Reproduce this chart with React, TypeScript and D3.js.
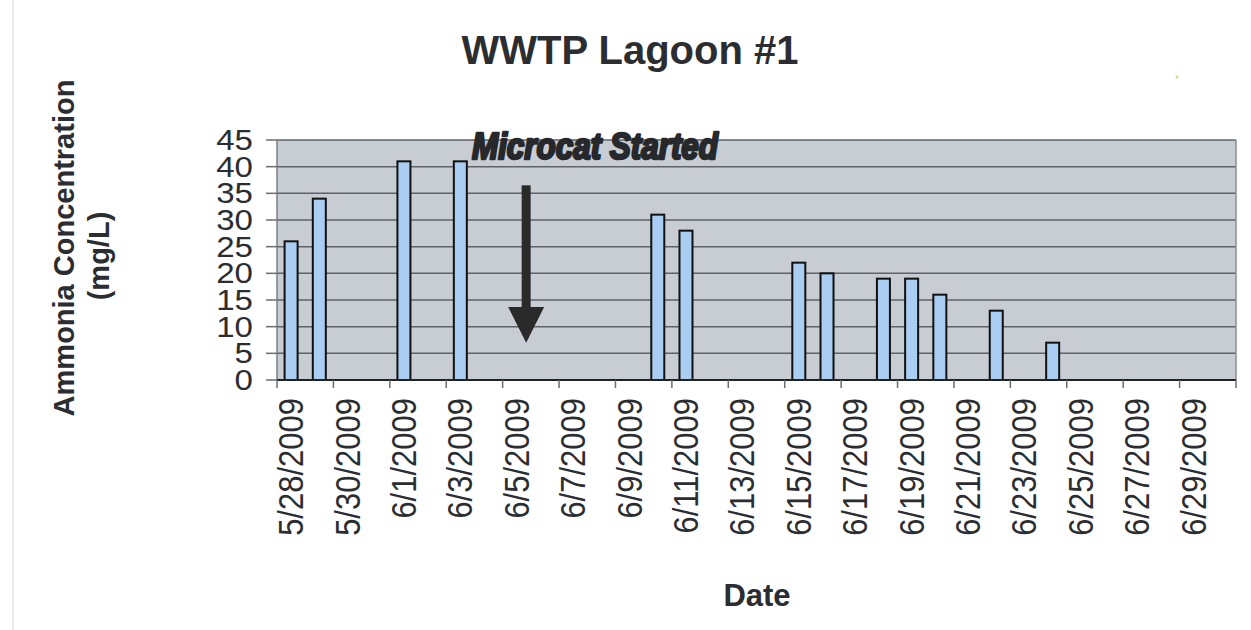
import React from "react";
import * as d3 from "d3";

// ---- data ----
const sampleDates = [
  "2009-05-28", "2009-05-29", "2009-06-01", "2009-06-03", "2009-06-10",
  "2009-06-11", "2009-06-15", "2009-06-16", "2009-06-18", "2009-06-19",
  "2009-06-20", "2009-06-22", "2009-06-24",
];
const ammonia = [26, 34, 41, 41, 31, 28, 22, 20, 19, 19, 16, 13, 7];
const yTicks = [0, 5, 10, 15, 20, 25, 30, 35, 40, 45];
const axisStart = "2009-05-28";
const axisEnd = "2009-07-01";
const title = "WWTP Lagoon #1";
const yTitle1 = "Ammonia Concentration";
const yTitle2 = "(mg/L)";
const xTitle = "Date";
const annotation = "Microcat Started";
const annotationDate = "2009-06-05T20:00:00Z";

const W = 1251;
const H = 630;
const M = { left: 277, right: 1236, top: 140, bottom: 380 };

const parse = (s: string) => new Date(s.length > 10 ? s : s + "T00:00:00Z");

export default function App() {
  const x = d3.scaleUtc().domain([parse(axisStart), parse(axisEnd)]).range([M.left, M.right]);
  const y = d3.scaleLinear().domain([0, 45]).range([M.bottom, M.top]);
  const dayW = x(parse("2009-05-29")) - x(parse("2009-05-28"));
  const tickDates = d3.utcDay.range(parse(axisStart), d3.utcDay.offset(parse(axisEnd), 1), 2);
  const labelDates = tickDates.filter((d) => d < parse(axisEnd));
  const fmt = d3.utcFormat("%-m/%-d/%Y");
  const barW = 13;
  const ax = x(parse(annotationDate));
  const font = "'Liberation Sans', Arial, Helvetica, sans-serif";
  const ink = "#2b2d31";

  return (
    <svg width={W} height={H} style={{ position: "absolute", left: 0, top: 0, background: "#fff" }} fontFamily={font}>
      <rect x={0} y={0} width={W} height={H} fill="#fff" />
      <line x1={13} x2={13} y1={0} y2={H} stroke="#d6d6d6" strokeWidth={1} />
      <circle cx={1177} cy={77} r={1.5} fill="#e6d27a" />

      {/* title */}
      <text x={630} y={64} textAnchor="middle" fontSize={40} fontWeight="bold" fill={ink}>{title}</text>

      {/* plot background */}
      <rect x={M.left} y={M.top} width={M.right - M.left} height={M.bottom - M.top} fill="#c8ccd3" />

      {/* gridlines */}
      {yTicks.filter((t) => t > 0).map((t) => (
        <line key={"g" + t} x1={M.left} x2={M.right} y1={y(t)} y2={y(t)} stroke="#5f6368" strokeWidth={1.5} />
      ))}
      <line x1={M.right} x2={M.right} y1={M.top} y2={M.bottom} stroke="#8a8e94" strokeWidth={1.5} />
      <line x1={M.left} x2={M.left} y1={M.top} y2={M.bottom} stroke="#7a7e84" strokeWidth={1.5} />

      {/* y ticks */}
      {yTicks.map((t) => (
        <g key={"yt" + t}>
          <line x1={M.left - 11} x2={M.left} y1={y(t)} y2={y(t)} stroke="#6a6e74" strokeWidth={1.5} />
          <text transform={`translate(${253},${y(t) + 10}) scale(1.12,1)`} textAnchor="end" fontSize={29.5} fill={ink}>{t}</text>
        </g>
      ))}

      {/* bars */}
      {sampleDates.map((d, i) => {
        const cx = x(parse(d)) + dayW / 2;
        return (
          <rect key={d} x={cx - barW / 2} y={y(ammonia[i])} width={barW} height={y(0) - y(ammonia[i])}
            fill="#aacdf2" stroke="#111" strokeWidth={2} />
        );
      })}

      {/* x axis */}
      <line x1={M.left} x2={M.right} y1={M.bottom} y2={M.bottom} stroke="#222" strokeWidth={2} />
      {tickDates.map((d) => (
        <line key={"xt" + d.toISOString()} x1={x(d)} x2={x(d)} y1={M.bottom} y2={M.bottom + 8} stroke="#6a6e74" strokeWidth={1.5} />
      ))}
      {labelDates.map((d) => {
        const cx = x(d) + dayW / 2;
        return (
          <text key={"xl" + d.toISOString()} transform={`translate(${cx + 12},${398}) rotate(-90) scale(1,1.13)`} textAnchor="end"
            fontSize={31} fill={ink}>{fmt(d)}</text>
        );
      })}

      {/* axis titles */}
      <text transform={`translate(74,248) rotate(-90)`} textAnchor="middle" fontSize={29} fontWeight="bold" fill={ink}>{yTitle1}</text>
      <text transform={`translate(109,256) rotate(-90)`} textAnchor="middle" fontSize={29} fontWeight="bold" fill={ink}>{yTitle2}</text>
      <text x={757} y={606} textAnchor="middle" fontSize={31} fontWeight="bold" fill={ink}>{xTitle}</text>

      {/* annotation */}
      <text x={472} y={159} fontSize={37} fontWeight="bold" fontStyle="italic" textLength={246} lengthAdjust="spacingAndGlyphs"
        fontFamily="'Liberation Sans Narrow', 'Arial Narrow', sans-serif" fill="#26282c" stroke="#26282c" strokeWidth={2.6}
        strokeLinejoin="round">{annotation}</text>
      <rect x={ax - 4.5} y={y(36.5)} width={9} height={y(13.5) - y(36.5) + 2} fill="#2a2a2a" />
      <path d={`M${ax - 18},${y(13.7)} L${ax + 18},${y(13.7)} L${ax},${y(7)} Z`} fill="#2a2a2a" />
    </svg>
  );
}
